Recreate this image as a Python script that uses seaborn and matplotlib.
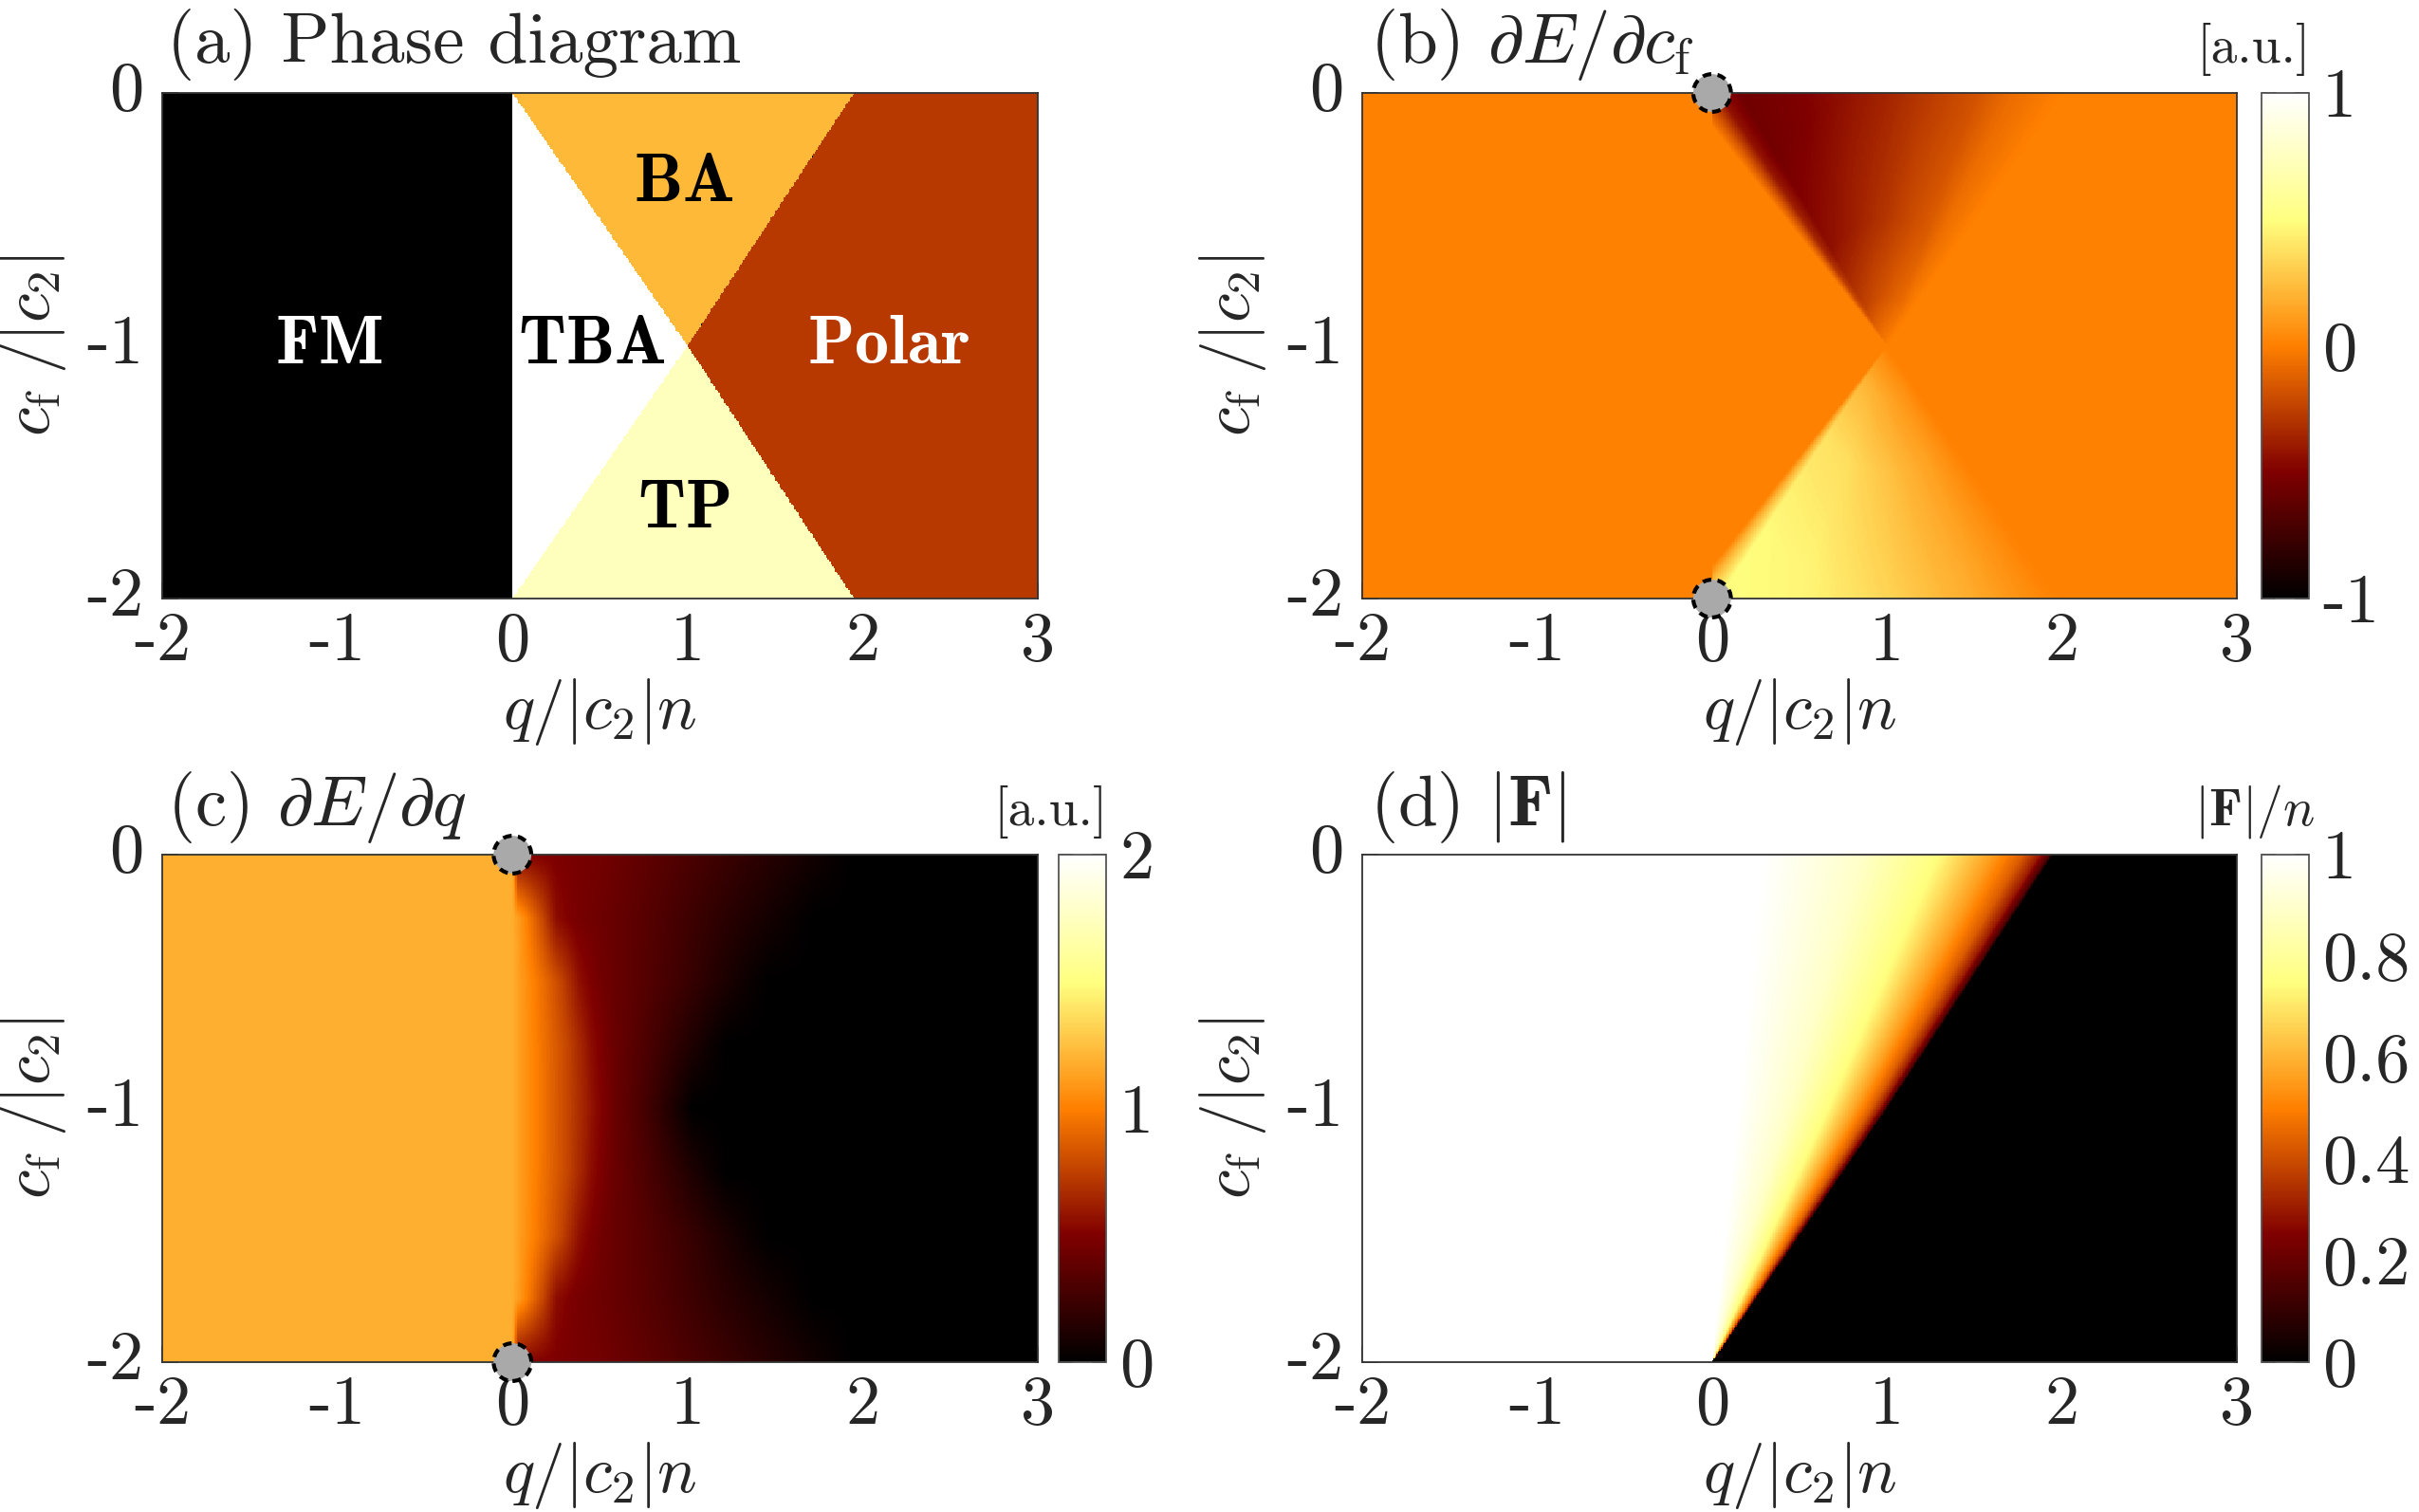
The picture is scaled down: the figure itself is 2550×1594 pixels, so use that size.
import numpy as np
import matplotlib
matplotlib.use("Agg")
import matplotlib.pyplot as plt
import seaborn as sns
from matplotlib.path import Path

sns.set_style("white")
plt.rcParams["font.family"] = ["cmr10", "DejaVu Serif"]
plt.rcParams["mathtext.fontset"] = "cm"
plt.rcParams["axes.unicode_minus"] = False

# axis ticks
q_ticks = [-2, -1, 0, 1, 2, 3]
q_tick_labels = ["-2", "-1", "0", "1", "2", "3"]
cf_ticks = [0, -1, -2]
cf_tick_labels = ["0", "-1", "-2"]

# (a) phase regions: colour level and boundary polygon in (q, cf)
phase_names = ["FM", "TBA", "BA", "TP", "Polar"]
phase_levels = [0.0, 1.0, 0.61, 0.87, 0.36]
phase_q = [[-2, 0, 0, -2], [0, 1, 0], [0, 1.95, 1], [0, 1, 1.95], [1.95, 3, 3, 1.95, 1]]
phase_cf = [[0, 0, -2, -2], [0, -1, -2], [0, 0, -1], [-2, -1, -2], [0, 0, -2, -2, -1]]
phase_text_colors = ["white", "black", "black", "black", "white"]

# (b) dE/dcf read around the crossing point (1,-1): angle (deg) profile and radial gain
b_angle = [-30, 45, 55, 63, 90, 117, 130, 134, 137, 139, 221, 223, 226, 243, 270, 297, 315, 330]
b_value = [0, 0, -0.08, -0.18, -0.36, -0.5, -0.55, -0.42, -0.15, 0, 0, 0.22, 0.48, 0.46, 0.33, 0.16, 0, 0]
b_radius = [0, 0.2, 0.5, 1.0, 1.6]
b_gain = [0, 0.45, 0.8, 1.0, 1.05]

# (c) dE/dq: value in FM, and q-profiles at distance |cf+1| from the middle row
c_fm = 1.18
c_row_d = [0, 0.25, 0.5, 0.75, 1.0]
c_row_q = [
    [0, 0.05, 0.15, 0.33, 0.47, 0.58, 0.78, 0.95, 1.03],
    [0, 0.05, 0.15, 0.32, 0.45, 0.56, 0.75, 0.95, 1.1, 1.22],
    [0, 0.05, 0.14, 0.27, 0.39, 0.51, 0.72, 0.95, 1.2, 1.36, 1.47],
    [0, 0.04, 0.09, 0.17, 0.25, 0.36, 0.6, 0.9, 1.2, 1.5, 1.72],
    [0, 0.01, 0.03, 0.5, 1.0, 1.5, 1.95],
]
c_row_val = [
    [1.18, 1.1, 0.98, 0.75, 0.55, 0.42, 0.25, 0.08, 0],
    [1.18, 1.1, 0.98, 0.76, 0.55, 0.43, 0.31, 0.17, 0.07, 0],
    [1.18, 1.1, 0.98, 0.78, 0.55, 0.44, 0.35, 0.25, 0.12, 0.04, 0],
    [1.18, 1.1, 0.98, 0.78, 0.55, 0.47, 0.4, 0.29, 0.17, 0.07, 0],
    [1.18, 1.0, 0.52, 0.45, 0.3, 0.14, 0],
]

# (d) |F|/n: edge of the magnetised region and profile vs q/q_edge
d_edge_cf = [-2, -1, 0]
d_edge_q = [0, 1.0, 1.95]
d_s = [0, 0.14, 0.44, 0.67, 0.82, 0.91, 0.96, 0.99, 1.0]
d_val = [1.0, 1.0, 0.89, 0.74, 0.56, 0.43, 0.3, 0.15, 0.0]

# grey markers
mark_q = [0, 0]
mark_cf = [0, -2]

# ---- grid ----
q_lo, q_hi, cf_lo, cf_hi = -2.0, 3.0, -2.0, 0.0
nq, ncf = 600, 300
dq = (q_hi - q_lo) / nq
dcf = (cf_hi - cf_lo) / ncf
qv = q_lo + (np.arange(nq) + 0.5) * dq
cfv = cf_hi - (np.arange(ncf) + 0.5) * dcf
Q, CF = np.meshgrid(qv, cfv)
pts = np.column_stack([Q.ravel(), CF.ravel()])


def qx(v):
    return (np.asarray(v, dtype=float) - q_lo) / dq


def cy(v):
    return (cf_hi - np.asarray(v, dtype=float)) / dcf


# (a)
phase_map = np.zeros(Q.shape)
for lev, pq, pc in zip(phase_levels, phase_q, phase_cf):
    inside = Path(np.column_stack([pq, pc])).contains_points(pts).reshape(Q.shape)
    phase_map[inside] = lev

# (b)
ang = np.degrees(np.arctan2(CF + 1, Q - 1))
ang = np.where(ang < -30, ang + 360, ang)
rad = np.hypot(Q - 1, CF + 1)
dEdcf = np.interp(ang, b_angle, b_value) * np.interp(rad, b_radius, b_gain)
dEdcf[Q < 0] = 0

# (c)
dd = np.abs(CF + 1)
rows = np.stack([np.interp(Q, rq, rv, right=0) for rq, rv in zip(c_row_q, c_row_val)])
rd = np.array(c_row_d)
idx = np.clip(np.searchsorted(rd, dd, side="right") - 1, 0, len(rd) - 2)
w = (dd - rd[idx]) / (rd[idx + 1] - rd[idx])
lo = np.take_along_axis(rows, idx[None], 0)[0]
hi = np.take_along_axis(rows, (idx + 1)[None], 0)[0]
dEdq = (1 - w) * lo + w * hi
dEdq[Q < 0] = c_fm

# (d)
edge = np.interp(CF, d_edge_cf, d_edge_q)
s = Q / np.maximum(edge, 1e-9)
absF = np.interp(s, d_s, d_val, right=0)
absF[Q < 0] = 1

# ---- figure ----
W, H = 2550, 1594
fig = plt.figure(figsize=(W / 100, H / 100), dpi=100)


def box(l, t, r, b):
    return [l / W, 1 - b / H, (r - l) / W, (b - t) / H]


axA = fig.add_axes(box(171, 98, 1094, 631))
axB = fig.add_axes(box(1436, 98, 2358, 631))
caxB = fig.add_axes(box(2384, 98, 2434, 631))
axC = fig.add_axes(box(171, 901, 1094, 1436))
caxC = fig.add_axes(box(1116, 901, 1166, 1436))
axD = fig.add_axes(box(1436, 901, 2358, 1436))
caxD = fig.add_axes(box(2384, 901, 2434, 1436))

TICK = 52
LAB = 50
edge_col = "#333333"


def panel(ax, field, vmin, vmax, cax=None, cticks=None, clabels=None):
    sns.heatmap(field, ax=ax, cmap="afmhot", vmin=vmin, vmax=vmax,
                cbar=cax is not None, cbar_ax=cax,
                xticklabels=False, yticklabels=False, rasterized=True)
    ax.set_xticks(qx(q_ticks))
    ax.set_xticklabels(q_tick_labels, fontsize=TICK, rotation=0)
    ax.set_yticks(cy(cf_ticks))
    ax.set_yticklabels(cf_tick_labels, fontsize=TICK, rotation=0, va="center")
    ax.tick_params(direction="in", length=12, width=1.3, color=edge_col,
                   bottom=True, left=True, top=False, right=False)
    ax.tick_params(axis="x", pad=10)
    ax.tick_params(axis="y", pad=14)
    for sp in ax.spines.values():
        sp.set_visible(True)
        sp.set_color(edge_col)
        sp.set_linewidth(1.3)
    ax.set_xlabel(r"$q/|c_2|n$", fontsize=LAB, labelpad=2)
    ax.set_ylabel(r"$c_\mathrm{f}\;/|c_2|$", fontsize=LAB, labelpad=14)
    if cax is not None:
        cb = ax.collections[0].colorbar
        cb.set_ticks(cticks)
        cb.ax.set_yticklabels(clabels, fontsize=TICK)
        cb.outline.set_linewidth(1.3)
        cb.outline.set_edgecolor("#555555")
        cb.ax.tick_params(direction="in", length=11, width=1.3, color=edge_col,
                          left=True, right=True, labelleft=False, labelright=True, pad=10)


panel(axA, phase_map, 0, 1)
panel(axB, dEdcf, -1, 1, caxB, [-1, 0, 1], ["-1", "0", "1"])
panel(axC, dEdq, 0, 2, caxC, [0, 1, 2], ["0", "1", "2"])
panel(axD, absF, 0, 1, caxD, [0, 0.2, 0.4, 0.6, 0.8, 1.0], ["0", "0.2", "0.4", "0.6", "0.8", "1"])

# phase labels in (a)
label_q = [-1.05, 0.45, 0.98, 0.98, 2.15]
label_cf = [-1.0, -1.0, -0.36, -1.65, -1.0]
for name, col, lq, lc in zip(phase_names, phase_text_colors, label_q, label_cf):
    axA.text(qx(lq), cy(lc), r"$\mathbf{%s}$" % name, color=col, fontsize=52,
             ha="center", va="center")

# grey markers at the corners of the intermediate region
for ax in (axB, axC):
    ax.scatter(qx(mark_q), cy(mark_cf), s=820, c="#a9a9a9", edgecolors="black",
               linewidths=3, linestyle=(0, (2.2, 1.6)), clip_on=False, zorder=6)

# titles
TT = 54
fig.text(176 / W, 1 - 66 / H, "(a) Phase diagram", fontsize=TT, va="baseline")
fig.text(1444 / W, 1 - 66 / H, r"(b) $\partial E/\partial c_\mathrm{f}$", fontsize=TT, va="baseline")
fig.text(176 / W, 1 - 870 / H, r"(c) $\partial E/\partial q$", fontsize=TT, va="baseline")
fig.text(1444 / W, 1 - 870 / H, r"(d) $|\mathbf{F}|$", fontsize=TT, va="baseline")
fig.text(2436 / W, 1 - 66 / H, "[a.u.]", fontsize=40, ha="right", va="baseline")
fig.text(1168 / W, 1 - 870 / H, "[a.u.]", fontsize=40, ha="right", va="baseline")
fig.text(2440 / W, 1 - 870 / H, r"$|\mathbf{F}|/n$", fontsize=40, ha="right", va="baseline")

fig.savefig("out.png", dpi=100)
